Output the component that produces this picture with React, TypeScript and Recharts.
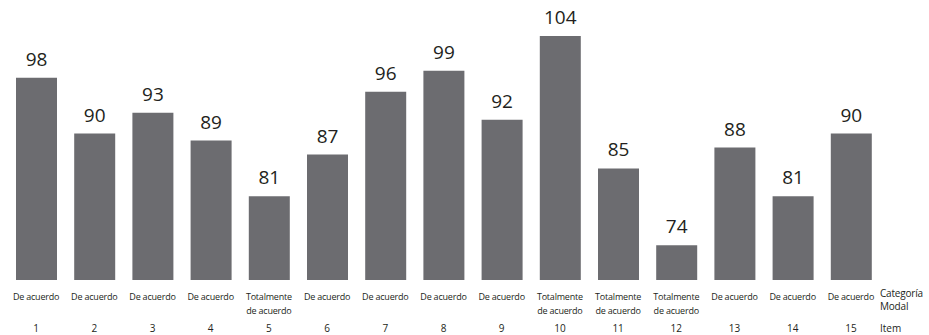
import React from "react";
import { BarChart, Bar, XAxis, YAxis, LabelList } from "recharts";

const items = ["1", "2", "3", "4", "5", "6", "7", "8", "9", "10", "11", "12", "13", "14", "15"];
const categories = [
  "De acuerdo", "De acuerdo", "De acuerdo", "De acuerdo", "Totalmente de acuerdo",
  "De acuerdo", "De acuerdo", "De acuerdo", "De acuerdo", "Totalmente de acuerdo",
  "Totalmente de acuerdo", "Totalmente de acuerdo", "De acuerdo", "De acuerdo", "De acuerdo",
];
const values = [98, 90, 93, 89, 81, 87, 96, 99, 92, 104, 85, 74, 88, 81, 90];

const data = items.map((item, i) => ({ item, category: categories[i], value: values[i] }));

const FONT = "'Open Sans', 'Noto Sans', sans-serif";
const TEXT = "#231f20";

const Tick = (props: any) => {
  const { x, payload, index } = props;
  const cat = categories[index] ?? "";
  const lines = cat.startsWith("Totalmente") ? ["Totalmente", "de acuerdo"] : [cat];
  return (
    <g>
      {lines.map((l, k) => (
        <text key={k} x={x} y={300 + k * 14} textAnchor="middle" fontSize={9} letterSpacing={-0.2} fontFamily={FONT} fill={TEXT}>
          {l}
        </text>
      ))}
      <text x={x} y={332} textAnchor="middle" fontSize={10} fontFamily={FONT} fill={TEXT}>
        {payload.value}
      </text>
    </g>
  );
};

export default function App() {
  return (
    <div style={{ position: "absolute", left: 0, top: 0, width: 929, height: 335, background: "#fff", overflow: "hidden" }}>
      <BarChart width={929} height={335} data={data} margin={{ top: 36, right: 49, left: 7, bottom: 0 }}>
        <XAxis dataKey="item" axisLine={false} tickLine={false} height={55} tick={<Tick />} interval={0} />
        <YAxis hide domain={[69, 104]} allowDataOverflow />
        <Bar dataKey="value" fill="#6c6c70" barSize={41} isAnimationActive={false}>
          <LabelList dataKey="value" position="top" offset={12} fontSize={19} fontFamily={FONT} fill={TEXT} />
        </Bar>
      </BarChart>
      <div style={{ position: "absolute", left: 880, top: 287, fontFamily: FONT, fontSize: 10, letterSpacing: -0.2, lineHeight: "12.5px", color: TEXT, whiteSpace: "nowrap" }}>
        <div>Categoría</div>
        <div>Modal</div>
      </div>
      <div style={{ position: "absolute", left: 880, top: 322, fontFamily: FONT, fontSize: 10, lineHeight: "12px", color: TEXT }}>
        Item
      </div>
    </div>
  );
}
